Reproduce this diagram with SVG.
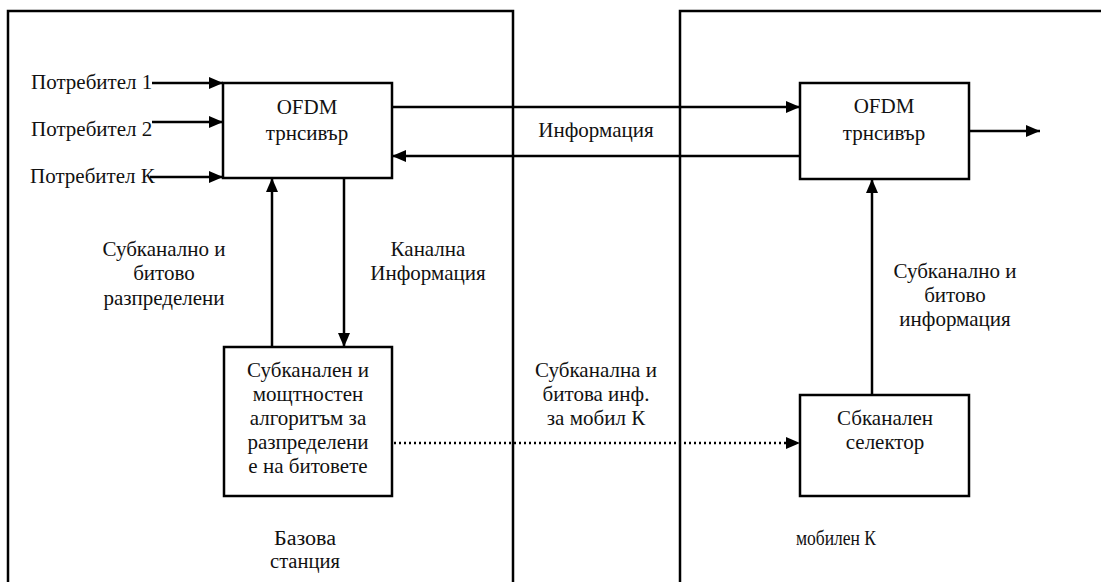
<svg xmlns="http://www.w3.org/2000/svg" width="1101" height="582" viewBox="0 0 1101 582">
<defs>
<marker id="ah" viewBox="0 0 14 12" refX="14" refY="6" markerWidth="14" markerHeight="12" markerUnits="userSpaceOnUse" orient="auto">
<path d="M0,0 L14,6 L0,12 Z" fill="#000"/>
</marker>
<style>
.frame{fill:none;stroke:#000;stroke-width:2.5}
.box{fill:#fff;stroke:#000;stroke-width:2.5}
.t{font-family:"Liberation Serif","Times New Roman",serif;font-size:21px;fill:#111;text-anchor:middle}
.tl{font-family:"Liberation Serif","Times New Roman",serif;font-size:21px;fill:#111}
.ts{font-family:"Liberation Serif","Times New Roman",serif;font-size:20px;fill:#111;text-anchor:middle}
.c{fill:none;stroke:#000;stroke-width:2.5;marker-end:url(#ah)}
.d{fill:none;stroke:#000;stroke-width:2.5;stroke-dasharray:2 3;marker-end:url(#ah)}
</style>
</defs>
<rect width="1101" height="582" fill="#fff"/>
<g id="base-station-frame">
<path class="frame" d="M8,582 V11 H513 V582"/>
<text class="ts" x="305" y="545" textLength="62" lengthAdjust="spacingAndGlyphs">Базова</text>
<text class="ts" x="305" y="568" textLength="70" lengthAdjust="spacingAndGlyphs">станция</text>
</g>
<g id="mobile-frame">
<path class="frame" d="M680,582 V11 H1103"/>
<text class="ts" x="836" y="545" textLength="80" lengthAdjust="spacingAndGlyphs">мобилен К</text>
</g>
<g id="users">
<text class="tl" x="31" y="89">Потребител 1</text>
<text class="tl" x="31" y="136">Потребител 2</text>
<text class="tl" x="30" y="183">Потребител К</text>
</g>
<g id="connectors">
<line class="c" x1="152" y1="83" x2="223" y2="83"/>
<line class="c" x1="152" y1="122" x2="223" y2="122"/>
<line class="c" x1="150" y1="177" x2="223" y2="177"/>
<line class="c" x1="392" y1="107" x2="800" y2="107"/>
<line class="c" x1="800" y1="156" x2="392" y2="156"/>
<line class="c" x1="969" y1="131" x2="1040" y2="131"/>
<line class="c" x1="272" y1="347" x2="272" y2="178"/>
<line class="c" x1="344" y1="178" x2="344" y2="347"/>
<line class="c" x1="872" y1="395" x2="872" y2="179"/>
<line class="d" x1="394" y1="443" x2="800" y2="443"/>
</g>
<g id="ofdm-bs">
<rect class="box" x="223" y="83" width="169" height="95"/>
<text class="t" x="307" y="114">OFDM</text>
<text class="t" x="307" y="140">трнсивър</text>
</g>
<g id="ofdm-mobile">
<rect class="box" x="800" y="83" width="169" height="96"/>
<text class="t" x="884" y="113">OFDM</text>
<text class="t" x="884" y="140">трнсивър</text>
</g>
<g id="allocator">
<rect class="box" x="224" y="347" width="168" height="149"/>
<text class="t" x="308" y="377">Субканален и</text>
<text class="t" x="308" y="401">мощтностен</text>
<text class="t" x="308" y="425">алгоритъм за</text>
<text class="t" x="308" y="449">разпределени</text>
<text class="t" x="308" y="473">е на битовете</text>
</g>
<g id="selector">
<rect class="box" x="800" y="395" width="169" height="101"/>
<text class="t" x="885" y="425">Сбканален</text>
<text class="t" x="885" y="449">селектор</text>
</g>
<g id="labels">
<text class="t" x="596" y="137">Информация</text>
<text class="t" x="164" y="256">Субканално и</text>
<text class="t" x="164" y="280">битово</text>
<text class="t" x="164" y="305">разпределени</text>
<text class="t" x="428" y="256">Канална</text>
<text class="t" x="428" y="280">Информация</text>
<text class="t" x="596" y="377">Субканална и</text>
<text class="t" x="596" y="401">битова инф.</text>
<text class="t" x="596" y="425">за мобил К</text>
<text class="t" x="955" y="278">Субканално и</text>
<text class="t" x="955" y="302">битово</text>
<text class="t" x="955" y="326">информация</text>
</g>
</svg>
